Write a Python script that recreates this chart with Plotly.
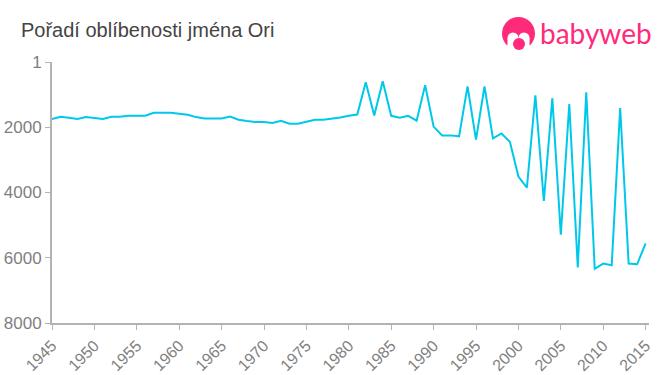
import plotly.graph_objects as go

years = list(range(1945, 2016))
ranks = [1745, 1680, 1710, 1745, 1690, 1720, 1745, 1680, 1680, 1650,
         1650, 1650, 1560, 1560, 1560, 1590, 1620, 1690, 1735, 1735,
         1735, 1670, 1770, 1810, 1840, 1840, 1870, 1800, 1890, 1890,
         1830, 1770, 1770, 1740, 1700, 1650, 1610, 620, 1640, 590,
         1650, 1710, 1650, 1800, 710, 1980, 2250, 2250, 2280, 750,
         2380, 750, 2340, 2190, 2450, 3510, 3850, 1020, 4260, 1110,
         5290, 1290, 6300, 930, 6340, 6180, 6230, 1410, 6180, 6200, 5560]
x_ticks = list(range(1945, 2016, 5))
y_ticks = [1, 2000, 4000, 6000, 8000]
y_labels = ["1", "2000", "4000", "6000", "8000"]
title_text = "Pořadí oblíbenosti jména Ori"
logo_text = "babyweb"

W, H = 660, 375
ML, MR, MT, MB = 52, 11, 62, 52
PW, PH = W - ML - MR, H - MT - MB
PINK = "#ff2a7a"


def px(v):
    return (v - ML) / PW


def py(v):
    return 1 - (v - MT) / PH


def circle(cx, cy, r, color):
    return dict(type="circle", xref="paper", yref="paper", layer="above",
                x0=px(cx - r), x1=px(cx + r), y0=py(cy + r), y1=py(cy - r),
                fillcolor=color, line=dict(width=0))


def rect(x0, y0, x1, y1, color):
    return dict(type="rect", xref="paper", yref="paper", layer="above",
                x0=px(x0), x1=px(x1), y0=py(y1), y1=py(y0),
                fillcolor=color, line=dict(width=0))


logo_shapes = [
    circle(518.5, 33.5, 16.5, PINK),
    rect(500, 45, 537, 51, "white"),
    circle(513, 38, 5.5, "white"),
    circle(524, 38, 5.5, "white"),
    rect(507.5, 38, 529.5, 45, "white"),
    circle(519, 44, 6, PINK),
]

fig = go.Figure(go.Scatter(x=years, y=ranks, mode="lines",
                           line=dict(color="#00c8ea", width=2),
                           hoverinfo="skip"))
fig.update_layout(
    width=W, height=H, autosize=False,
    margin=dict(l=ML, r=MR, t=MT, b=MB),
    paper_bgcolor="white", plot_bgcolor="white",
    showlegend=False,
    font=dict(family="Liberation Sans"),
    shapes=logo_shapes,
    annotations=[
        dict(text=title_text, xref="paper", yref="paper", x=px(19), y=py(30),
             xanchor="left", yanchor="middle", showarrow=False,
             font=dict(size=20, color="#444444", family="Liberation Sans")),
        dict(text=logo_text, xref="paper", yref="paper", x=px(596), y=py(33),
             xanchor="center", yanchor="middle", showarrow=False,
             font=dict(size=28, color=PINK, family="Lato")),
    ],
    xaxis=dict(range=[1945, 2015.4], tickvals=x_ticks, tickangle=-45, automargin=False,
               ticks="outside", ticklen=5, tickwidth=1, tickcolor="#b3b3b3",
               showline=True, linecolor="#b3b3b3", linewidth=2,
               showgrid=False, zeroline=False,
               tickfont=dict(size=16, color="#808080")),
    yaxis=dict(range=[8000, 1], tickvals=y_ticks, ticktext=y_labels, automargin=False,
               ticks="outside", ticklen=5, tickwidth=1, tickcolor="#b3b3b3",
               showline=True, linecolor="#b3b3b3", linewidth=2,
               showgrid=False, zeroline=False,
               tickfont=dict(size=17, color="#808080")),
)
fig.write_html("out.html", config=dict(displayModeBar=False),
               post_script="document.body.style.margin='0';document.body.style.overflow='hidden';")
